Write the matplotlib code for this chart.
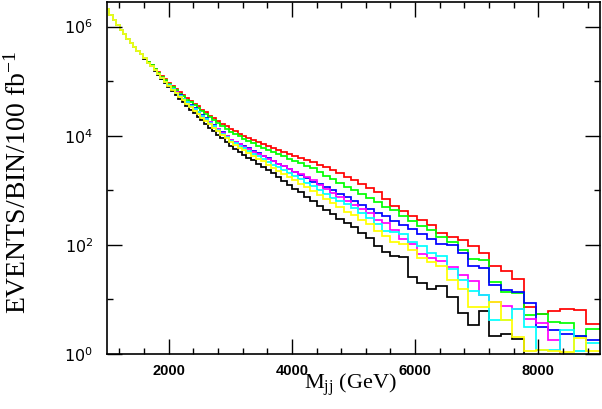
import numpy as np
import matplotlib
matplotlib.use("Agg")
import matplotlib.pyplot as plt
from matplotlib.ticker import FixedLocator, FixedFormatter, NullFormatter, MultipleLocator

# ---- data -----------------------------------------------------------------
# bin edges of the dijet-mass histogram (GeV)
bin_edges = [983, 1038, 1093, 1148, 1203, 1258, 1313, 1368, 1423, 1478, 1533, 1588,
             1643, 1699, 1755, 1811, 1867, 1924, 1981, 2038, 2096, 2154, 2213, 2272,
             2332, 2392, 2453, 2515, 2578, 2642, 2707, 2773, 2840, 2908, 2977, 3047,
             3118, 3190, 3263, 3338, 3415, 3494, 3575, 3658, 3743, 3830, 3919, 4010,
             4103, 4199, 4298, 4400, 4505, 4613, 4724, 4838, 4955, 5075, 5199, 5327,
             5459, 5595, 5735, 5880, 6030, 6185, 6345, 6513, 6690, 6864, 7035, 7205,
             7392, 7575, 7762, 7955, 8153, 8358, 8570, 8770, 9000]

# log10(events / bin / 100 fb^-1); None = empty bin
red_log10 = [6.33, 6.22, 6.12, 6.03, 5.94, 5.86, 5.78, 5.70, 5.63, 5.56, 5.49, 5.42, 5.35,
             5.29, 5.22, 5.16, 5.09, 5.03, 4.97, 4.91, 4.85, 4.80, 4.74, 4.69, 4.64, 4.59,
             4.54, 4.48, 4.43, 4.37, 4.32, 4.27, 4.22, 4.17, 4.12,
             4.08, 4.04, 4.00, 3.96, 3.92, 3.89, 3.85, 3.81, 3.78, 3.74, 3.71, 3.67, 3.63,
             3.59, 3.55, 3.51, 3.47, 3.42, 3.37, 3.31, 3.25, 3.19, 3.12, 3.05,
             2.96, 2.84, 2.72, 2.62, 2.53, 2.46, 2.36, 2.22, 2.14, 2.09, 1.97, 1.85, 1.61, 1.52, 1.37,
             0.86, 0.74, 0.78, 0.82, 0.80, 0.55]

green_log10 = [6.33, 6.22, 6.12, 6.03, 5.94, 5.86, 5.78, 5.70, 5.63, 5.56, 5.49, 5.42, 5.35,
               5.29, 5.22, 5.15, 5.08, 5.02, 4.95, 4.89, 4.83, 4.77, 4.72, 4.66, 4.61, 4.56,
               4.50, 4.45, 4.39, 4.34, 4.28, 4.23, 4.18, 4.12, 4.07,
               4.03, 3.99, 3.94, 3.90, 3.86, 3.82, 3.78, 3.74, 3.70, 3.66, 3.62, 3.58, 3.54,
               3.50, 3.45, 3.40, 3.34, 3.27, 3.20, 3.13, 3.06, 3.00, 2.93, 2.86,
               2.78, 2.70, 2.63, 2.53, 2.43, 2.35, 2.27, 2.14, 2.05, 1.90, 1.74, 1.72, 1.32, 1.14, 1.11,
               0.71, 0.73, 0.58, 0.56, 0.33, 0.45]

blue_log10 = [6.33, 6.22, 6.12, 6.03, 5.94, 5.86, 5.78, 5.70, 5.63, 5.56, 5.49, 5.42, 5.34,
              5.27, 5.20, 5.13, 5.06, 4.99, 4.92, 4.86, 4.80, 4.74, 4.68, 4.62, 4.56, 4.50,
              4.44, 4.38, 4.32, 4.26, 4.19, 4.13, 4.06, 4.00, 3.93,
              3.89, 3.85, 3.81, 3.77, 3.72, 3.68, 3.63, 3.59, 3.54, 3.49, 3.44, 3.39, 3.33,
              3.28, 3.22, 3.16, 3.11, 3.06, 3.00, 2.94, 2.87, 2.80, 2.73, 2.66,
              2.59, 2.52, 2.44, 2.37, 2.29, 2.20, 2.11, 2.02, 2.00, 1.85, 1.62, 1.58, 1.26, 1.17, 1.14,
              0.93, 0.50, 0.44, 0.37, 0.33, 0.25]

magenta_log10 = [6.33, 6.22, 6.12, 6.03, 5.94, 5.86, 5.78, 5.70, 5.63, 5.56, 5.49, 5.42, 5.34,
                 5.27, 5.20, 5.13, 5.06, 4.99, 4.92, 4.86, 4.80, 4.73, 4.67, 4.61, 4.55, 4.49,
                 4.43, 4.37, 4.31, 4.25, 4.18, 4.12, 4.05, 3.99, 3.92,
                 3.88, 3.84, 3.80, 3.76, 3.71, 3.67, 3.62, 3.58, 3.53, 3.48, 3.44, 3.39, 3.34,
                 3.29, 3.24, 3.18, 3.10, 3.02, 2.95, 2.88, 2.80, 2.73, 2.66, 2.59,
                 2.45, 2.40, 2.28, 2.10, 2.02, 1.84, 1.75, 1.70, 1.60, 1.45, 1.33, 1.08, 0.95, 0.88, 0.83,
                 0.65, 0.57, 0.26, None, None, None]

cyan_log10 = [6.33, 6.22, 6.12, 6.03, 5.94, 5.86, 5.78, 5.70, 5.63, 5.56, 5.49, 5.42, 5.34,
              5.27, 5.20, 5.13, 5.06, 4.99, 4.92, 4.85, 4.79, 4.73, 4.67, 4.61, 4.55, 4.49,
              4.43, 4.36, 4.30, 4.23, 4.17, 4.10, 4.04, 3.97, 3.91,
              3.86, 3.82, 3.77, 3.72, 3.67, 3.62, 3.57, 3.52, 3.47, 3.42, 3.37, 3.31, 3.26,
              3.20, 3.14, 3.08, 3.01, 2.94, 2.86, 2.80, 2.74, 2.67, 2.59, 2.50,
              2.38, 2.26, 2.24, 2.20, 2.06, 1.97, 1.85, 1.80, 1.55, 1.36, 1.15, 1.08, 0.62, 0.62, 0.82,
              0.50, 0.07, 0.07, 0.44, 0.05, 0.20]

yellow_log10 = [6.33, 6.22, 6.12, 6.03, 5.94, 5.86, 5.78, 5.70, 5.63, 5.56, 5.49, 5.42, 5.33,
                5.27, 5.20, 5.13, 5.05, 4.98, 4.91, 4.84, 4.78, 4.71, 4.65, 4.58, 4.52, 4.46,
                4.40, 4.33, 4.27, 4.21, 4.14, 4.08, 4.01, 3.95, 3.88,
                3.83, 3.78, 3.73, 3.68, 3.63, 3.58, 3.53, 3.47, 3.41, 3.36, 3.30, 3.24, 3.18,
                3.12, 3.06, 2.99, 2.91, 2.84, 2.76, 2.69, 2.61, 2.54, 2.46, 2.38,
                2.26, 2.17, 2.05, 2.01, 1.90, 1.75, 1.68, 1.62, 1.36, 1.20, 0.87, 0.87, 0.95, 0.62, 0.32,
                0.05, 0.08, 0.05, 0.03, 0.30, 0.05]

black_log10 = [6.33, 6.22, 6.12, 6.03, 5.94, 5.86, 5.78, 5.70, 5.63, 5.56, 5.49, 5.41, 5.33,
               5.27, 5.19, 5.12, 5.04, 4.97, 4.89, 4.82, 4.75, 4.68, 4.62, 4.55, 4.48, 4.42,
               4.35, 4.29, 4.22, 4.15, 4.08, 4.01, 3.95, 3.88, 3.81,
               3.76, 3.71, 3.65, 3.60, 3.55, 3.49, 3.43, 3.37, 3.31, 3.24, 3.17, 3.10, 3.03,
               2.96, 2.88, 2.80, 2.72, 2.64, 2.56, 2.48, 2.40, 2.32, 2.22, 2.12,
               1.97, 1.86, 1.80, 1.77, 1.42, 1.30, 1.20, 1.25, 1.05, 0.76, 0.54, 0.79, 0.33, 0.37, 0.27,
               None, None, None, None, None, None]

series = [("black", black_log10), ("red", red_log10), ("#00ff00", green_log10),
          ("blue", blue_log10), ("magenta", magenta_log10), ("cyan", cyan_log10),
          ("yellow", yellow_log10)]

x_ticks = [2000, 4000, 6000, 8000]
y_ticks = [1, 1e2, 1e4, 1e6]
y_ticklabels = ["$10^{0}$", "$10^{2}$", "$10^{4}$", "$10^{6}$"]

# ---- figure ---------------------------------------------------------------
plt.rcParams["mathtext.fontset"] = "custom"
plt.rcParams["mathtext.rm"] = "Liberation Serif"
plt.rcParams["mathtext.it"] = "Liberation Serif:italic"
plt.rcParams["mathtext.default"] = "regular"

fig = plt.figure(figsize=(6.02, 4.09), dpi=100)
ax = fig.add_axes([107 / 602, 1 - 354 / 409, 493 / 602, 352 / 409])

edges = np.array(bin_edges, dtype=float)
for color, vals in series:
    arr = np.array([np.nan if v is None else v for v in vals], dtype=float)
    counts = np.where(np.isnan(arr), 0.0, 10.0 ** np.nan_to_num(arr))
    plot_counts = np.where(counts > 0, counts, 1e-3)
    ax.stairs(plot_counts, edges, color=color, lw=1.25, baseline=None)

ax.set_yscale("log")
ax.set_xlim(1000, 9000)
ax.set_ylim(1, 10 ** 6.45)

ax.xaxis.set_major_locator(FixedLocator(x_ticks))
ax.xaxis.set_minor_locator(MultipleLocator(400))
ax.yaxis.set_major_locator(FixedLocator(y_ticks))
ax.yaxis.set_major_formatter(FixedFormatter(y_ticklabels))
ax.yaxis.set_minor_locator(FixedLocator([10, 1e3, 1e5]))
ax.yaxis.set_minor_formatter(NullFormatter())

ax.tick_params(which="both", direction="in", top=True, right=True, width=1.0)
ax.tick_params(which="major", length=11)
ax.tick_params(which="minor", length=4.5)
ax.tick_params(axis="y", which="major", pad=10, labelsize=11.5)
ax.tick_params(axis="x", which="major", pad=7, labelsize=10.5)
for lab in ax.get_xticklabels():
    lab.set_fontfamily("Liberation Sans")
    lab.set_fontweight("bold")
for sp in ax.spines.values():
    sp.set_linewidth(1.2)

fig.text(18 / 602, 1 - 182 / 409, "EVENTS/BIN/100 fb$^{-1}$", rotation=90,
         ha="center", va="center", fontsize=20, family="Liberation Serif")
fig.text(350 / 602, 1 - 385 / 409, "M$_{\\rm jj}$ (GeV)", ha="center", va="center",
         fontsize=16, family="Liberation Serif")

fig.savefig("out.png", dpi=100)
